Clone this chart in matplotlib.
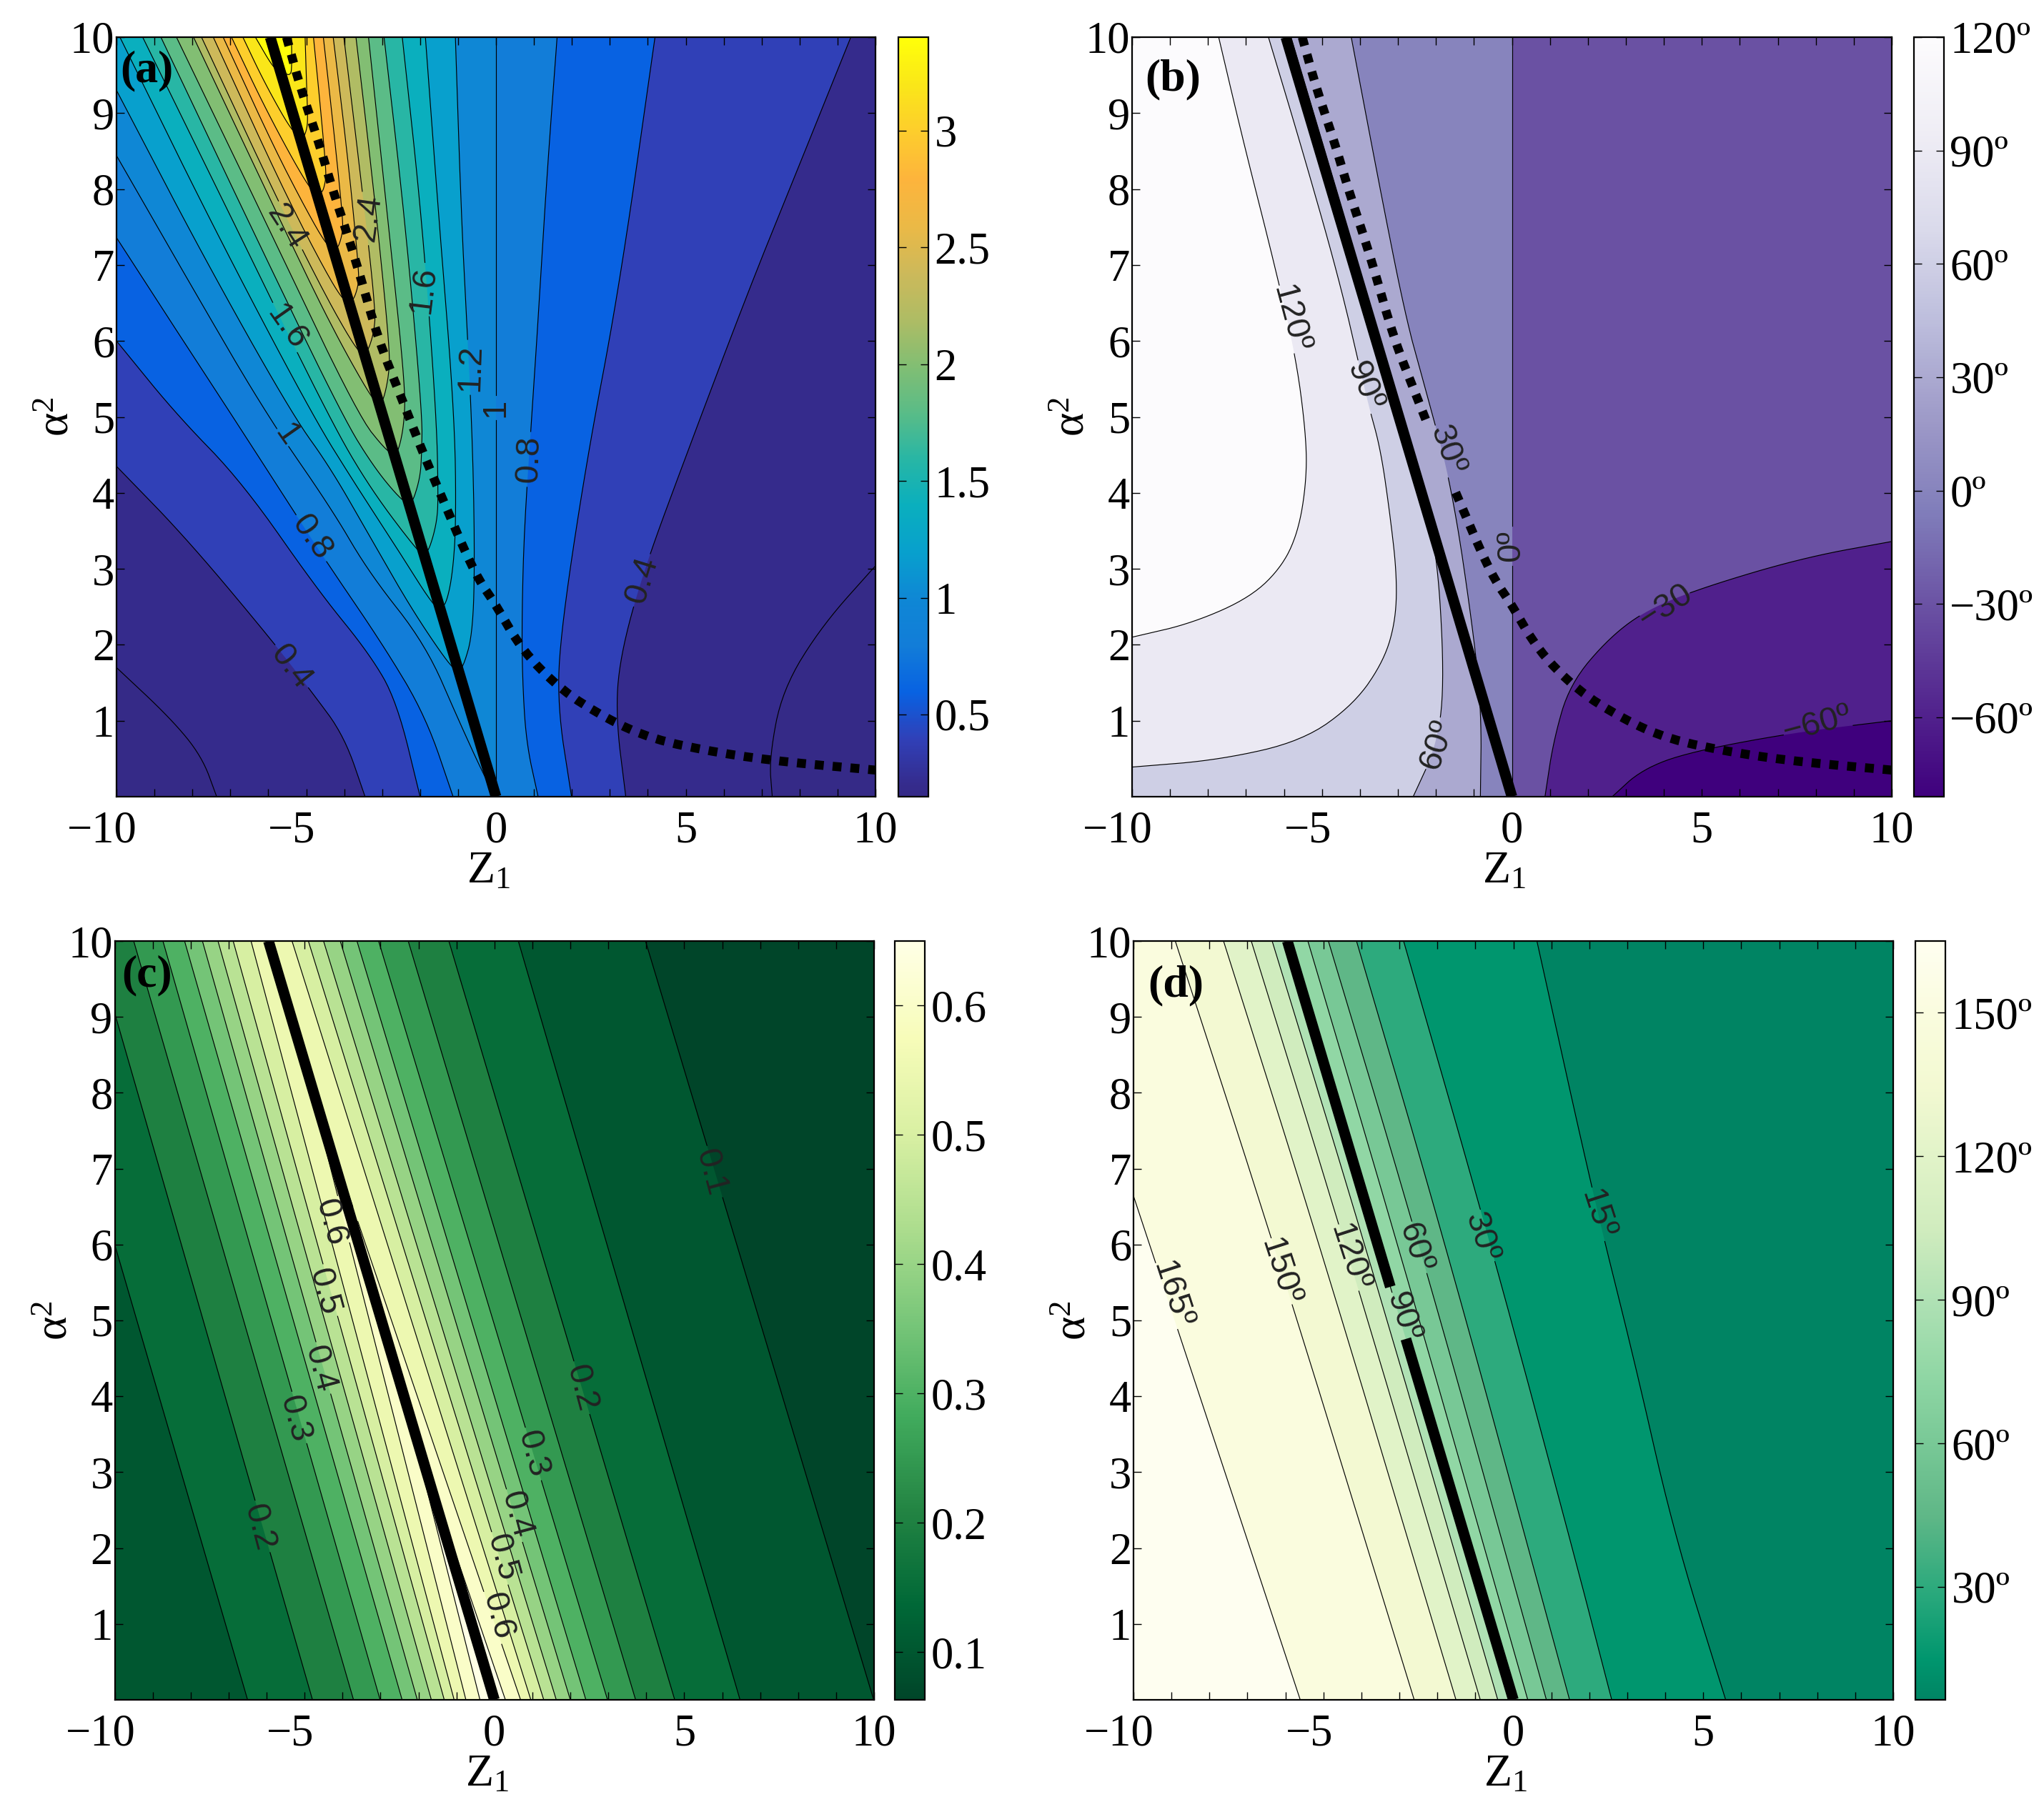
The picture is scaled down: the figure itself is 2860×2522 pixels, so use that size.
import numpy as np
import matplotlib
matplotlib.use('Agg')
import matplotlib.pyplot as plt
from matplotlib.cm import ScalarMappable
from matplotlib.colors import LinearSegmentedColormap, Normalize
from matplotlib.ticker import FixedLocator

plt.rcParams['font.family'] = ['Liberation Serif', 'DejaVu Serif']
plt.rcParams['mathtext.fontset'] = 'custom'
plt.rcParams['mathtext.rm'] = 'Liberation Serif'
plt.rcParams['mathtext.it'] = 'Liberation Serif'
plt.rcParams['mathtext.bf'] = 'Liberation Serif:bold'

W, H = 2860, 2522
DPI = 200
PX_X, PX_Y = 53.1, 106.3   # pixels per data unit inside a panel

x_ticks = [-10, -5, 0, 5, 10]
x_tick_labels = ['\u221210', '\u22125', '0', '5', '10']
x_minor = list(range(-10, 11))
y_ticks = [1, 2, 3, 4, 5, 6, 7, 8, 9, 10]

# boundary lines (Z1, alpha^2)
solid_z = [0, -5.95]
solid_a = [0, 10]
dotted_z = [-5.52, -5.17, -4.66, -4.31, -3.71, -3.11, -2.51, -1.91, -1.39, -0.88, -0.45, -0.02,
            0.67, 1.7, 2.9, 4.1, 5.82, 7.54, 10]
dotted_a = [10, 9.36, 8.6, 8.0, 7.09, 6.03, 5.27, 4.51, 3.9, 3.3, 2.85, 2.54,
            1.94, 1.41, 1.03, 0.76, 0.58, 0.46, 0.35]

# (a) magnitude
a_levels = [0.2, 0.4, 0.6, 0.8, 1.0, 1.2, 1.4, 1.6, 1.8, 2.0, 2.2, 2.4, 2.6, 2.8, 3.0, 3.2, 3.4]
a_left = [
    [(-10, 1.7), (-8.57, 1.03), (-7.75, 0.53), (-7.36, 0)],
    [(-10, 4.35), (-8.19, 3.42), (-5.97, 2.1), (-4.84, 1.37), (-4.0, 0.8), (-3.45, 0)],
    [(-10, 6.0), (-8.42, 5.03), (-6.7, 4.15), (-4.7, 2.72), (-3.36, 1.9), (-2.62, 1.27), (-2.0, 0)],
    [(-10, 7.36), (-8.5, 6.2), (-6.97, 5.03), (-5.59, 3.96), (-4.48, 3.1), (-2.99, 2.01), (-1.86, 1.07), (-1.13, 0)],
    [(-10, 8.44), (-8.0, 6.7), (-6.05, 5.03), (-4.33, 3.79), (-3.35, 2.95), (-1.86, 2.01), (-0.98, 1.0), (-0.3, 0.26), (0, 0)],
    [(-10, 9.3), (-7.7, 7.1), (-5.37, 5.03), (-4.4, 4.36), (-3.35, 3.45), (-2.24, 2.48), (-1.17, 1.69), (-1.01, 1.69)],
    [(-9.91, 10), (-7.45, 7.5), (-4.85, 5.03), (-3.73, 4.13), (-2.62, 3.28), (-1.65, 2.51), (-1.49, 2.51)],
    [(-9.31, 10), (-6.95, 7.6), (-4.44, 5.03), (-3.36, 4.09), (-2.05, 3.22), (-1.92, 3.22)],
    [(-8.83, 10), (-6.55, 7.6), (-4.07, 5.03), (-3.21, 4.33), (-2.47, 3.89), (-2.31, 3.89)],
    [(-8.42, 10), (-6.1, 7.6), (-3.65, 5.03), (-2.87, 4.54), (-2.7, 4.54)],
    [(-7.97, 10), (-5.7, 7.6), (-4.35, 6.2), (-3.24, 5.21), (-3.1, 5.21)],
    [(-7.76, 10), (-5.8, 7.9), (-4.5, 6.6), (-3.65, 5.86), (-3.49, 5.86)],
    [(-7.45, 10), (-5.8, 8.2), (-4.8, 7.2), (-4.07, 6.55), (-3.9, 6.55)],
    [(-7.19, 10), (-5.9, 8.6), (-5.08, 7.8), (-4.47, 7.26), (-4.32, 7.26)],
    [(-6.97, 10), (-6.02, 9.0), (-4.92, 8.0), (-4.76, 8.0)],
    [(-6.67, 10), (-6.1, 9.4), (-5.37, 8.75), (-5.2, 8.75)],
    [(-6.34, 10), (-5.85, 9.58), (-5.7, 9.58)],
]
a_right = [
    [(7.28, 0), (7.2, 0.5), (7.54, 1.4), (8.57, 2.24), (10, 3.04)],
    [(3.42, 0), (3.16, 1.03), (3.25, 1.8), (3.85, 2.92), (4.97, 4.44), (6.68, 6.7), (7.9, 8.2), (9.35, 10)],
    [(1.99, 0), (1.62, 1.18), (1.7, 2.16), (2.39, 4.44), (3.25, 6.7), (4.19, 10)],
    [(1.11, 0), (0.8, 0.7), (0.7, 1.5), (0.68, 2.3), (0.74, 3.5), (0.92, 4.84), (1.1, 6.2), (1.33, 8.1), (1.61, 10)],
    [(0, 0), (0, 10)],
    [(-1.01, 1.69), (-0.87, 1.69), (-0.6, 2.17), (-0.56, 3.35), (-0.64, 5.03), (-0.9, 7.42), (-1.07, 10)],
    [(-1.49, 2.51), (-1.33, 2.51), (-1.15, 2.9), (-1.05, 3.59), (-1.09, 5.03), (-1.52, 7.7), (-1.86, 10)],
    [(-1.92, 3.22), (-1.78, 3.22), (-1.56, 3.6), (-1.52, 3.95), (-1.57, 5.03), (-1.95, 7.6), (-2.47, 10)],
    [(-2.31, 3.89), (-2.2, 3.87), (-2.0, 4.2), (-1.96, 4.5), (-1.94, 5.03), (-2.4, 7.6), (-2.95, 10)],
    [(-2.7, 4.54), (-2.58, 4.53), (-2.42, 4.9), (-2.39, 5.41), (-2.85, 7.6), (-3.36, 10)],
    [(-3.1, 5.21), (-2.98, 5.19), (-2.82, 5.55), (-2.8, 5.91), (-3.2, 7.9), (-3.69, 10)],
    [(-3.49, 5.86), (-3.39, 5.85), (-3.22, 6.1), (-3.17, 6.41), (-3.55, 8.1), (-4.01, 10)],
    [(-3.9, 6.55), (-3.77, 6.52), (-3.63, 6.72), (-3.61, 6.92), (-3.9, 8.4), (-4.29, 10)],
    [(-4.32, 7.26), (-4.18, 7.2), (-4.05, 7.4), (-4.03, 7.59), (-4.28, 8.8), (-4.55, 10)],
    [(-4.76, 8.0), (-4.59, 7.93), (-4.49, 8.1), (-4.48, 8.27), (-4.65, 9.2), (-4.81, 10)],
    [(-5.2, 8.75), (-5.07, 8.67), (-4.98, 8.8), (-4.96, 8.94), (-5.0, 9.5), (-5.03, 10)],
    [(-5.7, 9.58), (-5.4, 9.47), (-5.38, 9.7), (-5.39, 10)],
]
a_labels = [
    ('0.4', -5.4, 1.71, -52, 0.4), ('0.8', -4.86, 3.41, -55, 0.8), ('1', -5.52, 4.76, -55, 1.0),
    ('1.6', -5.52, 6.18, -55, 1.6), ('2.4', -5.52, 7.5, -57, 2.4), ('2.4', -3.37, 7.62, 82, 2.4),
    ('1.6', -1.91, 6.67, 83, 1.6), ('1.2', -0.67, 5.65, 88, 1.2), ('1', -0.02, 5.12, 90, 1.0),
    ('0.8', 0.88, 4.44, 88, 0.8), ('0.4', 3.85, 2.85, 73, 0.4),
]
a_range = (0.148, 3.4)
a_stop_values = [0.148, 0.2, 0.4, 0.6, 0.8, 1.0, 1.2, 1.4, 1.6, 1.8, 2.0, 2.2, 2.4, 2.6, 2.8, 3.0, 3.2, 3.4]
a_stop_colors = ['#352a87', '#352b8c', '#3040b8', '#0862e2', '#127dd8', '#0f87d5', '#08a0cd', '#0aafbe',
                 '#28b6a5', '#5abc87', '#82be73', '#afbc64', '#cdb95a', '#ebb946', '#fdb43c', '#fdcd2d',
                 '#fae619', '#ffff0a']
a_cbar_ticks = [0.5, 1, 1.5, 2, 2.5, 3]
a_cbar_labels = ['0.5', '1', '1.5', '2', '2.5', '3']

# (b) phase
b_levels = [-60, -30, 0, 30, 60, 90, 120]
b_curves = [
    [(2.64, 0), (3.4, 0.35), (4.6, 0.58), (7.36, 0.84), (10, 1.0)],
    [(0.87, 0), (1.09, 0.73), (1.52, 1.48), (2.55, 2.09), (3.58, 2.47), (5.12, 2.77), (7.7, 3.15), (10, 3.36)],
    [(0, 0), (0, 10)],
    [(-0.83, 0), (-0.8, 1.03), (-0.97, 2.01), (-1.57, 4.06), (-2.26, 5.34), (-2.77, 6.25), (-3.41, 7.84), (-4.23, 10)],
    [(-2.6, 0), (-2.0, 0.65), (-1.78, 1.41), (-1.92, 2.92), (-2.19, 3.68), (-3.23, 5.6), (-4.63, 8.0), (-5.82, 10)],
    [(-10, 0.39), (-7.75, 0.48), (-5.52, 0.73), (-4.15, 1.22), (-3.37, 1.79), (-3.06, 2.32), (-3.03, 2.92),
     (-3.2, 3.68), (-3.46, 4.59), (-3.8, 5.19), (-4.49, 6.71), (-5.52, 8.52), (-6.41, 10)],
    [(-10, 2.1), (-8.44, 2.28), (-6.89, 2.62), (-6.03, 3.04), (-5.6, 3.53), (-5.4, 4.21), (-5.43, 4.81),
     (-5.69, 5.8), (-6.29, 7.09), (-7.06, 8.6), (-7.72, 10)],
]
b_labels = [
    ('120\u00ba', -5.83, 6.29, -75, 120), ('90\u00ba', -3.89, 5.4, -68, 90), ('30\u00ba', -1.71, 4.56, -70, 30),
    ('0\u00ba', -0.03, 3.3, 90, 0), ('\u221230', 4.06, 2.5, 33, -30), ('\u221260\u00ba', 8.04, 0.95, 15, -60),
    ('60\u00ba', -1.97, 0.69, 72, 60),
]
b_range = (-81, 120)
b_cbar_ticks = [-60, -30, 0, 30, 60, 90, 120]
b_cbar_labels = ['\u221260\u00ba', '\u221230\u00ba', '0\u00ba', '30\u00ba', '60\u00ba', '90\u00ba', '120\u00ba']

# (c) magnitude
c_levels = [0.1, 0.15, 0.2, 0.25, 0.3, 0.35, 0.4, 0.45, 0.5, 0.55, 0.6, 0.65]
c_left = [
    [(-10, 0.03), (-9.98, 0)], [(-10, 6.0), (-6.5, 0)], [(-10, 9.05), (-4.79, 0)], [(-9.5, 10), (-3.71, 0)],
    [(-8.73, 10), (-3.01, 0)], [(-8.16, 10), (-2.43, 0)], [(-7.69, 10), (-2.03, 0)], [(-7.28, 10), (-1.66, 0)],
    [(-6.88, 10), (-1.32, 0)], [(-6.41, 10), (-1.06, 0)], [(-5.2, 8.75), (-0.75, 0)], [(-2.55, 4.3), (-0.38, 0)],
]
c_right = [
    [(9.99, 0), (3.98, 10)], [(6.47, 0), (0.63, 10)], [(4.75, 0), (-1.2, 10)], [(3.72, 0), (-2.27, 10)],
    [(2.98, 0), (-3.05, 10)], [(2.41, 0), (-3.62, 10)], [(2.0, 0), (-4.06, 10)], [(1.63, 0), (-4.5, 10)],
    [(1.3, 0), (-4.9, 10)], [(0.96, 0), (-5.33, 10)], [(0.69, 0), (-4.75, 8.0)], [(0.29, 0), (-1.96, 3.3)],
]
c_labels = [
    ('0.1', 5.69, 6.95, -75, 0.1), ('0.2', 2.29, 4.11, -75, 0.2), ('0.3', 1.0, 3.24, -75, 0.3),
    ('0.4', 0.58, 2.44, -75, 0.4), ('0.5', 0.2, 1.88, -75, 0.5), ('0.6', 0.08, 1.1, -75, 0.6),
    ('0.6', -4.32, 6.29, -75, 0.6), ('0.5', -4.49, 5.38, -75, 0.5), ('0.4', -4.61, 4.36, -75, 0.4),
    ('0.3', -5.26, 3.7, -75, 0.3), ('0.2', -6.21, 2.27, -75, 0.2),
]
c_range = (0.063, 0.65)
c_cbar_ticks = [0.1, 0.2, 0.3, 0.4, 0.5, 0.6]
c_cbar_labels = ['0.1', '0.2', '0.3', '0.4', '0.5', '0.6']

# (d) phase
d_levels = [15, 30, 45, 60, 75, 90, 105, 120, 135, 150, 165]
d_curves = [
    [(5.59, 0), (4.22, 2.2), (3.19, 4.47), (2.16, 6.52), (0.62, 10)],
    [(2.59, 0), (1.65, 1.82), (-0.58, 5.98), (-2.89, 10)],
    [(1.48, 0), (-1.78, 6), (-4.13, 10)],
    [(0.87, 0), (-2.47, 6), (-4.87, 10)],
    [(0.38, 0), (-3.04, 6), (-5.41, 10)],
    [(0, 0), (-5.95, 10)],
    [(-0.41, 0), (-3.9, 6), (-6.35, 10)],
    [(-0.87, 0), (-4.42, 6), (-6.9, 10)],
    [(-1.51, 0), (-5.1, 6), (-7.63, 10)],
    [(-2.61, 0), (-6.3, 6), (-8.9, 10)],
    [(-5.61, 0), (-10, 6.64)],
]
d_labels = [
    ('15\u00ba', 2.2, 6.4, -72, 15), ('30\u00ba', -0.84, 6.1, -72, 30), ('60\u00ba', -2.59, 5.95, -72, 60),
    ('90\u00ba', -2.9, 5.04, -72, 90), ('120\u00ba', -4.32, 5.83, -72, 120), ('150\u00ba', -6.14, 5.64, -72, 150),
    ('165\u00ba', -8.99, 5.34, -72, 165),
]
d_range = (6.4, 165)
d_stop_values = [6.4, 15, 30, 45, 60, 75, 90, 105, 120, 135, 150, 165]
d_stop_colors = ['#008463', '#00966e', '#2daa7d', '#5fb787', '#78c896', '#91d7a5', '#afe1b4', '#d0ecbe',
                 '#e1f3c8', '#f3f9d2', '#fafcde', '#fefef0']
d_cbar_ticks = [30, 60, 90, 120, 150]
d_cbar_labels = ['30\u00ba', '60\u00ba', '90\u00ba', '120\u00ba', '150\u00ba']


def make_cmap(values, colors):
    lo, hi = values[0], values[-1]
    return LinearSegmentedColormap.from_list(
        'bands', [((v - lo) / (hi - lo), c) for v, c in zip(values, colors)], N=512)


def smooth(points, rounds=3):
    # corner cutting, end points stay where they are
    p = np.array(points, dtype=float)
    if len(p) < 3:
        return p
    for _ in range(rounds):
        q = [p[0]]
        for a, b in zip(p[:-1], p[1:]):
            q.append(0.75 * a + 0.25 * b)
            q.append(0.25 * a + 0.75 * b)
        q.append(p[-1])
        p = np.array(q)
    return p


def border_pos(p):
    x, y = p
    if y == 0:
        return x + 10
    if x == 10:
        return 20 + y
    if y == 10:
        return 30 + (10 - x)
    if x == -10:
        return 50 + (10 - y)
    return None


def walk_border(a, b):
    # corners met going counter-clockwise round the frame from a to b
    sa, sb = border_pos(a), border_pos(b)
    if sa is None or sb is None or sa == sb:
        return []
    if sb < sa:
        sb += 60
    corners = [(20, (10, 0)), (30, (10, 10)), (50, (-10, 10)), (60, (-10, 0)),
               (80, (10, 0)), (90, (10, 10)), (110, (-10, 10)), (120, (-10, 0))]
    return [c for s, c in corners if sa < s < sb]


def region(branches):
    # polygon of everything above a level, the high side lies left of each branch
    out = []
    for i, br in enumerate(branches):
        nxt = branches[(i + 1) % len(branches)]
        out.extend(map(tuple, smooth(br)))
        out.extend(walk_border(br[-1], nxt[0]))
    return np.array(out)


def with_gaps(xy, spots):
    # dense copy of a line with holes where labels sit
    xy = np.asarray(xy, dtype=float)
    d = np.r_[0, np.cumsum(np.hypot(np.diff(xy[:, 0]) * PX_X, np.diff(xy[:, 1]) * PX_Y))]
    t = np.linspace(0, d[-1], max(int(d[-1] / 2), 2))
    x, y = np.interp(t, d, xy[:, 0]), np.interp(t, d, xy[:, 1])
    for cx, cy, r in spots:
        hole = np.hypot((x - cx) * PX_X, (y - cy) * PX_Y) < r
        x[hole] = np.nan
    return x, y


def label_spots(labels, level):
    return [(z, a, 5 + 11 * len(t)) for t, z, a, rot, lv in labels if lv == level]


def px_axes(fig, x0, x1, y0, y1):
    return fig.add_axes([x0 / W, 1 - y1 / H, (x1 - x0) / W, (y1 - y0) / H])


def panel(fig, box, cbox, tag, tag_pos, levels, branches, labels, cmap, vrange,
          cb_ticks, cb_labels, dotted=False, dotted_gap=None, solid_gap=None):
    ax = px_axes(fig, *box)
    norm = Normalize(*vrange)
    # filled bands take the colour of their lower level
    ax.set_facecolor(cmap(0.0))
    for lv, br in zip(levels, branches):
        ax.fill(*region(br).T, color=cmap(norm(lv)), lw=0, zorder=1)
    for lv, br in zip(levels, branches):
        for b in br:
            x, y = with_gaps(smooth(b), label_spots(labels, lv))
            ax.plot(x, y, color='k', lw=0.42, zorder=2)

    x, y = with_gaps(np.column_stack([solid_z, solid_a]), solid_gap or [])
    ax.plot(x, y, color='k', lw=5.4, solid_capstyle='butt', zorder=3)
    if dotted:
        x, y = with_gaps(smooth(np.column_stack([dotted_z, dotted_a]), 2), dotted_gap or [])
        ax.plot(x, y, color='k', lw=4.5, linestyle=(0, (1, 1)), dash_capstyle='butt', zorder=3)

    for t, z, a, rot, lv in labels:
        ax.text(z, a, t, rotation=rot, rotation_mode='anchor', ha='center', va='center',
                family=['Liberation Sans', 'DejaVu Sans'], fontsize=17, color='#222222', zorder=4)

    ax.set_xlim(-10, 10)
    ax.set_ylim(0, 10)
    ax.set_xticks(x_ticks)
    ax.xaxis.set_minor_locator(FixedLocator(x_minor))
    ax.set_yticks(y_ticks)
    ax.tick_params(axis='both', which='both', direction='in', top=True, right=True,
                   length=4, width=0.5, zorder=6)
    ax.tick_params(axis='y', which='major', labelsize=22.5, pad=1)
    ax.tick_params(axis='x', which='both', labelbottom=False)
    # the digits of negative labels stay centred, the minus hangs to the left
    for t, txt in zip(x_ticks, x_tick_labels):
        shift = -7.2 if txt.startswith('\u2212') else 0
        ax.annotate(txt, (t, 0), xytext=(shift, -7), textcoords='offset points',
                    ha='center', va='top', fontsize=22.5, annotation_clip=False)
    for s in ax.spines.values():
        s.set_linewidth(0.8)
        s.set_zorder(7)

    ax.set_xlabel(r'$\mathregular{Z_1}$', fontsize=23)
    ax.xaxis.set_label_coords(0.49, -0.072)
    ax.set_ylabel(r'$\mathregular{\alpha^2}$', fontsize=23)
    ax.yaxis.set_label_coords(-0.05, 0.5)
    ax.text(tag_pos[0], tag_pos[1], tag, transform=ax.transAxes, ha='center', va='center',
            fontsize=23, fontweight='bold', zorder=8)

    cax = px_axes(fig, *cbox)
    cb = fig.colorbar(ScalarMappable(norm=norm, cmap=cmap), cax=cax)
    cb.solids.set_edgecolor('face')
    cb.set_ticks(cb_ticks)
    cb.set_ticklabels(cb_labels)
    cb.outline.set_linewidth(0.8)
    cax.tick_params(which='both', direction='in', left=True, right=True, length=4, width=0.5,
                    labelsize=22.5, pad=3)
    cax.minorticks_off()
    return ax


fig = plt.figure(figsize=(W / DPI, H / DPI), dpi=DPI)

panel(fig, (163, 1225, 52, 1115), (1257, 1299, 52, 1115), '(a)', (0.04, 0.955),
      a_levels, [[l, r] for l, r in zip(a_left, a_right)], a_labels,
      make_cmap(a_stop_values, a_stop_colors), a_range, a_cbar_ticks, a_cbar_labels, dotted=True)

panel(fig, (1584, 2647, 52, 1115), (2678, 2720, 52, 1115), '(b)', (0.054, 0.944),
      b_levels, [[c] for c in b_curves], b_labels,
      plt.get_cmap('Purples_r'), b_range, b_cbar_ticks, b_cbar_labels, dotted=True,
      dotted_gap=[(-1.8, 4.5, 54)])

panel(fig, (160.5, 1223, 1317, 2379), (1252, 1294, 1317, 2379), '(c)', (0.042, 0.954),
      c_levels, [[l, r] for l, r in zip(c_left, c_right)], c_labels,
      plt.get_cmap('YlGn_r'), c_range, c_cbar_ticks, c_cbar_labels)

panel(fig, (1586, 2649, 1317, 2379), (2680, 2722, 1317, 2379), '(d)', (0.056, 0.941),
      d_levels, [[c] for c in d_curves], d_labels,
      make_cmap(d_stop_values, d_stop_colors), d_range, d_cbar_ticks, d_cbar_labels,
      solid_gap=[(-3.03, 5.1, 37)])

fig.savefig('out.png', dpi=DPI, facecolor='white')
